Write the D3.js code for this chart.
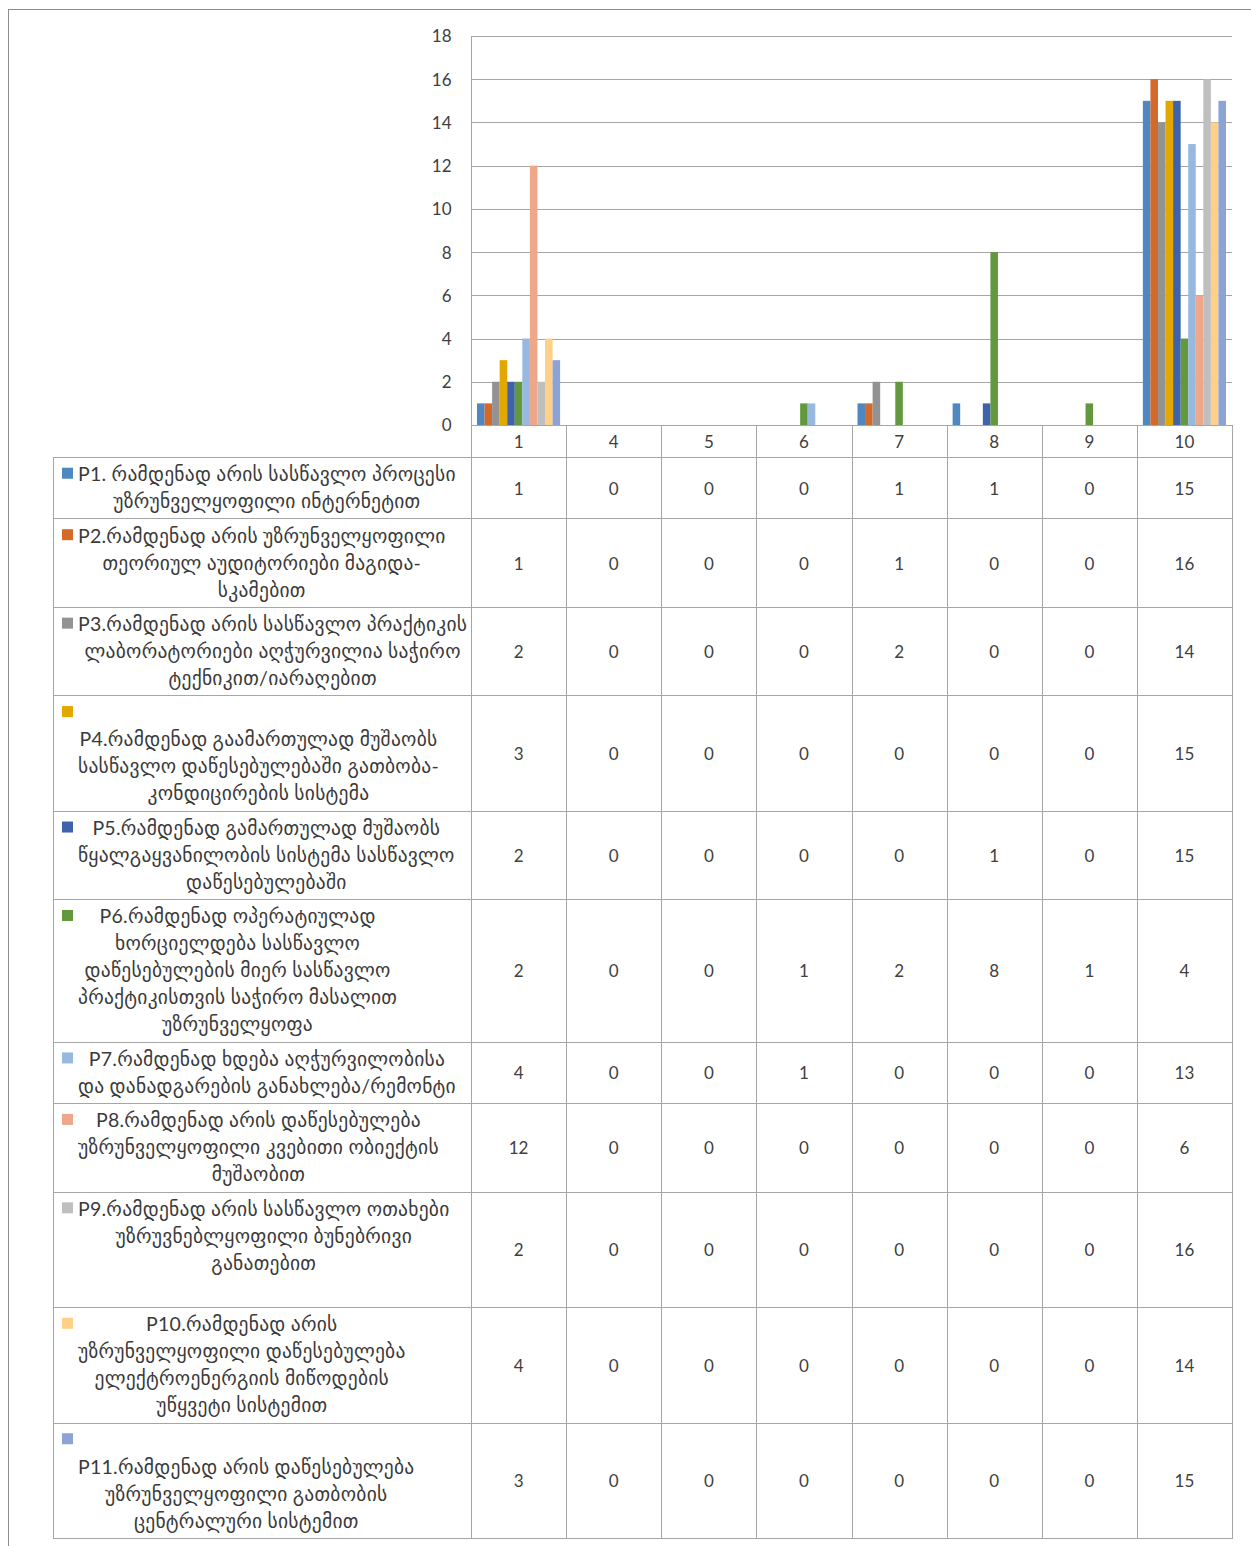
<!DOCTYPE html>
<html>
<head>
<meta charset="utf-8">
<script src="https://cdn.jsdelivr.net/npm/d3@7"></script>
<style>
    body { margin: 0; background: #fff; }
    svg { display: block; }
    .lbl { font-family: "Lato", "DejaVu Sans", sans-serif; fill: #3a3a3a; letter-spacing: 0.25px; }
    .num { font-family: "Lato", sans-serif; font-size: 17px; fill: #404040; }
</style>
</head>
<body>
<svg id="chart" width="1251" height="1546"></svg>
<script>
    // categories on the x axis (score given)
    var categories = ["1", "4", "5", "6", "7", "8", "9", "10"];

    var seriesNames = ["P1", "P2", "P3", "P4", "P5", "P6", "P7", "P8", "P9", "P10", "P11"];

    // legend text, one entry per line ("" = key square alone on its own line)
    var seriesLabels = [
        ["P1. რამდენად არის სასწავლო პროცესი", "უზრუნველყოფილი ინტერნეტით"],
        ["P2.რამდენად არის უზრუნველყოფილი", "თეორიულ აუდიტორიები მაგიდა-", "სკამებით"],
        ["P3.რამდენად არის სასწავლო პრაქტიკის", "ლაბორატორიები აღჭურვილია საჭირო", "ტექნიკით/იარაღებით"],
        ["", "P4.რამდენად გაამართულად მუშაობს", "სასწავლო დაწესებულებაში გათბობა-", "კონდიცირების სისტემა"],
        ["P5.რამდენად გამართულად მუშაობს", "წყალგაყვანილობის სისტემა სასწავლო", "დაწესებულებაში"],
        ["P6.რამდენად ოპერატიულად", "ხორციელდება სასწავლო", "დაწესებულების მიერ სასწავლო", "პრაქტიკისთვის საჭირო მასალით", "უზრუნველყოფა"],
        ["P7.რამდენად ხდება აღჭურვილობისა", "და დანადგარების განახლება/რემონტი"],
        ["P8.რამდენად არის დაწესებულება", "უზრუნველყოფილი კვებითი ობიექტის", "მუშაობით"],
        ["P9.რამდენად არის სასწავლო ოთახები", "უზრუვნებლყოფილი ბუნებრივი", "განათებით", " "],
        ["P10.რამდენად არის", "უზრუნველყოფილი დაწესებულება", "ელექტროენერგიის მიწოდების", "უწყვეტი სისტემით"],
        ["", "P11.რამდენად არის დაწესებულება", "უზრუნველყოფილი გათბობის", "ცენტრალური სისტემით"]
    ];

    var seriesColors = ["#4f87c0", "#d4692a", "#939393", "#e3a800", "#3e63ac", "#62993e",
                        "#97b9e0", "#efa78a", "#bfbfbf", "#ffd085", "#8da3d6"];

    // values per series, in category order
    var P1  = [1, 0, 0, 0, 1, 1, 0, 15];
    var P2  = [1, 0, 0, 0, 1, 0, 0, 16];
    var P3  = [2, 0, 0, 0, 2, 0, 0, 14];
    var P4  = [3, 0, 0, 0, 0, 0, 0, 15];
    var P5  = [2, 0, 0, 0, 0, 1, 0, 15];
    var P6  = [2, 0, 0, 1, 2, 8, 1, 4];
    var P7  = [4, 0, 0, 1, 0, 0, 0, 13];
    var P8  = [12, 0, 0, 0, 0, 0, 0, 6];
    var P9  = [2, 0, 0, 0, 0, 0, 0, 16];
    var P10 = [4, 0, 0, 0, 0, 0, 0, 14];
    var P11 = [3, 0, 0, 0, 0, 0, 0, 15];
    var seriesValues = [P1, P2, P3, P4, P5, P6, P7, P8, P9, P10, P11];

    var yTicks = [0, 2, 4, 6, 8, 10, 12, 14, 16, 18];

    const PLOT_LEFT = 471, PLOT_RIGHT = 1232, PLOT_TOP = 36, PLOT_BOTTOM = 425;
    const TABLE_LEFT = 53, HEADER_BOTTOM = 457;
    const LINE_HEIGHT = 27, ROW_PAD = 7.45;
    const GRID = "#a6a6a6";

    var svg = d3.select("#chart");

    // outer chart frame
    svg.append("rect")
        .attr("x", 8.5).attr("y", 9.5)
        .attr("width", 1300).attr("height", 1600)
        .attr("fill", "none").attr("stroke", "#8c8c8c");

    var x0 = d3.scaleBand().domain(categories).range([PLOT_LEFT, PLOT_RIGHT]);
    var x1 = d3.scaleBand().domain(seriesNames).range([6, x0.bandwidth() - 6]);
    var y = d3.scaleLinear().domain([0, 18]).range([PLOT_BOTTOM, PLOT_TOP]);

    // gridlines
    svg.append("g")
        .selectAll("line")
        .data(yTicks)
        .enter().append("line")
            .attr("x1", PLOT_LEFT).attr("x2", PLOT_RIGHT)
            .attr("y1", function(d) { return Math.round(y(d)) + 0.5; })
            .attr("y2", function(d) { return Math.round(y(d)) + 0.5; })
            .attr("stroke", GRID).attr("stroke-width", 1);

    // y axis
    var yAxis = svg.append("g")
        .attr("transform", "translate(" + (PLOT_LEFT - 0.5) + ",0.5)")
        .call(d3.axisLeft(y).tickValues(yTicks).tickSize(0).tickPadding(19));
    yAxis.select(".domain").remove();
    yAxis.selectAll("text")
        .attr("class", "num")
        .style("font-size", "17px");

    // bars
    var groups = svg.append("g")
        .selectAll("g")
        .data(categories)
        .enter().append("g")
            .attr("transform", function(d) { return "translate(" + x0(d) + ",0)"; });

    groups.selectAll("rect")
        .data(function(c, ci) {
            return seriesNames.map(function(s, si) { return { s: s, si: si, v: seriesValues[si][ci] }; });
        })
        .enter().append("rect")
            .filter(function(d) { return d.v > 0; })
            .attr("x", function(d) { return x1(d.s); })
            .attr("width", x1.bandwidth())
            .attr("y", function(d) { return y(d.v); })
            .attr("height", function(d) { return y(0) - y(d.v); })
            .attr("fill", function(d) { return seriesColors[d.si]; });

    // row boundaries of the data table
    var rowTops = [HEADER_BOTTOM];
    seriesLabels.forEach(function(lines) {
        rowTops.push(rowTops[rowTops.length - 1] + ROW_PAD + LINE_HEIGHT * lines.length);
    });
    var tableBottom = rowTops[rowTops.length - 1];

    var tbl = svg.append("g").attr("stroke", GRID).attr("stroke-width", 1);

    // horizontal table lines
    tbl.selectAll("line.h")
        .data(rowTops)
        .enter().append("line")
            .attr("x1", TABLE_LEFT).attr("x2", PLOT_RIGHT)
            .attr("y1", function(d) { return Math.round(d) + 0.5; })
            .attr("y2", function(d) { return Math.round(d) + 0.5; });
    // axis line under the header row
    tbl.append("line")
        .attr("x1", PLOT_LEFT).attr("x2", PLOT_RIGHT)
        .attr("y1", PLOT_BOTTOM + 0.5).attr("y2", PLOT_BOTTOM + 0.5);

    // vertical lines
    tbl.append("line")
        .attr("x1", PLOT_LEFT + 0.5).attr("x2", PLOT_LEFT + 0.5)
        .attr("y1", PLOT_TOP).attr("y2", Math.round(tableBottom) + 1);
    tbl.append("line")
        .attr("x1", TABLE_LEFT + 0.5).attr("x2", TABLE_LEFT + 0.5)
        .attr("y1", HEADER_BOTTOM).attr("y2", Math.round(tableBottom) + 1);
    tbl.selectAll("line.v")
        .data(categories)
        .enter().append("line")
            .attr("x1", function(d) { return Math.round(x0(d) + x0.bandwidth()) + 0.5; })
            .attr("x2", function(d) { return Math.round(x0(d) + x0.bandwidth()) + 0.5; })
            .attr("y1", PLOT_BOTTOM).attr("y2", Math.round(tableBottom) + 1);

    // category labels
    svg.append("g")
        .selectAll("text")
        .data(categories)
        .enter().append("text")
            .attr("class", "num")
            .attr("x", function(d) { return x0(d) + x0.bandwidth() / 2; })
            .attr("y", (PLOT_BOTTOM + HEADER_BOTTOM) / 2 + 1)
            .attr("dy", "0.35em")
            .attr("text-anchor", "middle")
            .text(function(d) { return d; });

    // table values
    seriesValues.forEach(function(vals, si) {
        var mid = (rowTops[si] + rowTops[si + 1]) / 2;
        svg.append("g")
            .selectAll("text")
            .data(vals)
            .enter().append("text")
                .attr("class", "num")
                .attr("x", function(d, ci) { return x0(categories[ci]) + x0.bandwidth() / 2; })
                .attr("y", mid + 1)
                .attr("dy", "0.35em")
                .attr("text-anchor", "middle")
                .text(function(d) { return d; });
    });

    // legend cells: key square + centred text block
    const KEY_X = 62, KEY_SIZE = 11, TEXT_LEFT = 78, TEXT_RIGHT = 468;
    seriesLabels.forEach(function(lines, si) {
        var firstY = rowTops[si] + ROW_PAD / 2 + LINE_HEIGHT / 2;

        svg.append("rect")
            .attr("x", KEY_X).attr("y", firstY - KEY_SIZE / 2 - 1)
            .attr("width", KEY_SIZE).attr("height", KEY_SIZE)
            .attr("fill", seriesColors[si]);

        var items = svg.append("g")
            .selectAll("text")
            .data(lines)
            .enter().append("text")
                .attr("class", "lbl")
                .style("font-size", "19.5px")
                .attr("y", function(d, i) { return firstY + i * LINE_HEIGHT; })
                .attr("dy", "0.35em")
                .attr("text-anchor", "middle")
                .text(function(d) { return d; });

        var widest = 0;
        items.each(function() { widest = Math.max(widest, this.getComputedTextLength()); });
        var cx = Math.min(TEXT_LEFT + widest / 2, (TEXT_LEFT + TEXT_RIGHT) / 2 + 8);
        items.attr("x", cx);
    });
</script>
</body>
</html>
